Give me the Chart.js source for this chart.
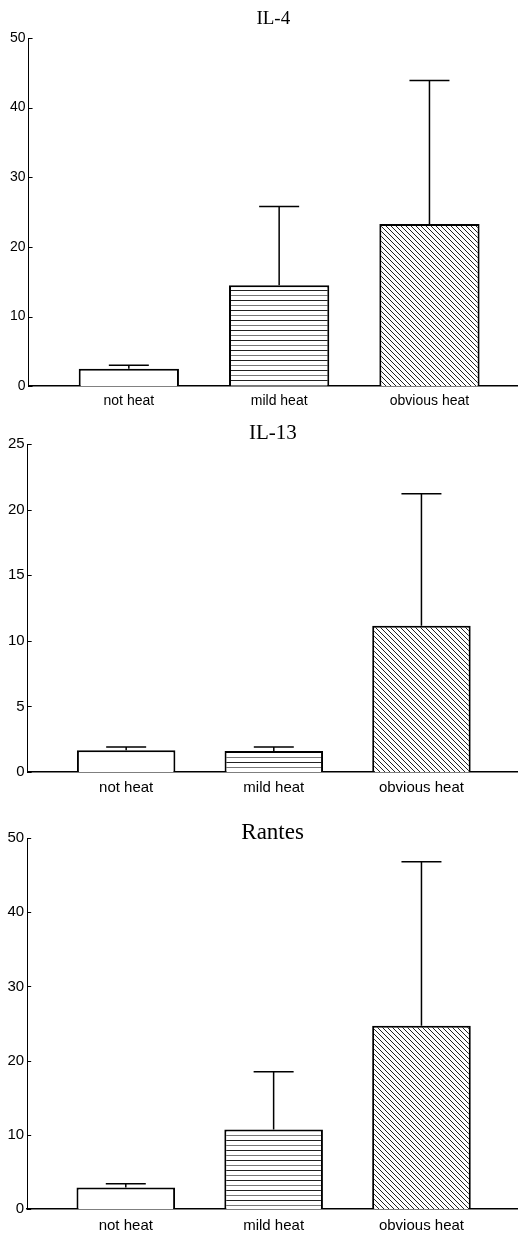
<!DOCTYPE html>
<html>
<head>
<meta charset="utf-8">
<script src="https://cdn.jsdelivr.net/npm/chart.js@4"></script>
<style>
  body { margin: 0; background: #fff; }
  canvas { display: block; }
</style>
</head>
<body>
<canvas id="chart-1" width="518" height="412"></canvas>
<canvas id="chart-2" width="518" height="388"></canvas>
<canvas id="chart-3" width="518" height="436"></canvas>
<script>
var categories = ["not heat", "mild heat", "obvious heat"];

var il4Means = [2.5, 14.5, 23.3];
var il4Upper = [3.0, 25.8, 43.9];
var il4Ticks = [0, 10, 20, 30, 40, 50];

var il13Means = [1.65, 1.6, 11.15];
var il13Upper = [1.9, 1.9, 21.2];
var il13Ticks = [0, 5, 10, 15, 20, 25];

var rantesMeans = [2.9, 10.7, 24.7];
var rantesUpper = [3.4, 18.5, 46.8];
var rantesTicks = [0, 10, 20, 30, 40, 50];

// fill patterns
function hLines() {
  var c = document.createElement("canvas");
  c.width = 8; c.height = 10;
  var g = c.getContext("2d");
  g.fillStyle = "#fff";
  g.fillRect(0, 0, 8, 10);
  g.fillStyle = "#222";
  g.fillRect(0, 0, 8, 1);
  g.fillStyle = "#777";
  g.fillRect(0, 5, 8, 1);
  return g.createPattern(c, "repeat");
}

function hatch() {
  var c = document.createElement("canvas");
  c.width = 5; c.height = 5;
  var g = c.getContext("2d");
  g.fillStyle = "#fff";
  g.fillRect(0, 0, 5, 5);
  g.strokeStyle = "#222";
  g.lineWidth = 1;
  g.beginPath();
  g.moveTo(-1, -1); g.lineTo(6, 6);
  g.moveTo(-1, 4); g.lineTo(1, 6);
  g.moveTo(4, -1); g.lineTo(6, 1);
  g.stroke();
  return g.createPattern(c, "repeat");
}

var fills = ["#fff", hLines(), hatch()];

// upper error bars from each bar top, plus small inward y ticks
var errorBars = {
  id: "errorBars",
  afterDatasetsDraw: function (chart, args, opts) {
    var ctx = chart.ctx;
    var y = chart.scales.y;
    var meta = chart.getDatasetMeta(0);
    ctx.save();
    ctx.strokeStyle = "#000";
    ctx.lineWidth = 1.5;
    meta.data.forEach(function (bar, i) {
      var top = y.getPixelForValue(opts.upper[i]);
      ctx.beginPath();
      ctx.moveTo(bar.x, bar.y);
      ctx.lineTo(bar.x, top);
      ctx.moveTo(bar.x - opts.cap / 2, top);
      ctx.lineTo(bar.x + opts.cap / 2, top);
      ctx.stroke();
    });
    ctx.lineWidth = 1;
    y.ticks.forEach(function (t) {
      var py = Math.round(y.getPixelForValue(t.value)) + 0.5;
      ctx.beginPath();
      ctx.moveTo(chart.chartArea.left, py);
      ctx.lineTo(chart.chartArea.left + 4, py);
      ctx.stroke();
    });
    ctx.restore();
  },
};

function panel(id, title, means, upper, ticks, o) {
  var ctx = document.getElementById(id).getContext("2d");
  return new Chart(ctx, {
    type: "bar",
    data: {
      datasets: [
        {
          data: means.map(function (v, i) { return { x: i, y: v }; }),
          backgroundColor: fills,
          borderColor: "#000",
          borderWidth: 2,
          barPercentage: 0.667,
          categoryPercentage: 1,
        },
      ],
    },
    options: {
      responsive: false,
      animation: false,
      layout: { padding: { left: o.left, right: 0, top: 0, bottom: o.bottom } },
      scales: {
        x: {
          type: "linear",
          offset: false,
          min: -0.667,
          max: o.xmax,
          afterBuildTicks: function (axis) {
            axis.ticks = categories.map(function (c, i) { return { value: i }; });
          },
          ticks: {
            callback: function (v) { return categories[v]; },
            color: "#000",
            padding: o.xpad,
            font: { family: "Liberation Sans", size: o.font },
          },
          grid: { display: false, drawTicks: false },
          border: { display: true, color: "#000", width: 1.5 },
        },
        y: {
          min: 0,
          max: ticks[ticks.length - 1],
          afterBuildTicks: function (axis) {
            axis.ticks = ticks.map(function (t) { return { value: t }; });
          },
          ticks: {
            color: "#000",
            padding: 3,
            font: { family: "Liberation Sans", size: o.font },
          },
          grid: { display: false, drawTicks: false },
          border: { display: true, color: "#000", width: 1 },
        },
      },
      plugins: {
        legend: { display: false },
        tooltip: { enabled: false },
        title: {
          display: true,
          text: title,
          fullSize: false,
          color: "#000",
          font: { family: "Liberation Serif", size: o.titleSize, weight: "normal" },
          padding: { top: o.titleTop, bottom: o.titleBottom },
        },
        errorBars: { upper: upper, cap: 40 },
      },
    },
    plugins: [errorBars],
  });
}

panel("chart-1", "IL-4", il4Means, il4Upper, il4Ticks,
  { left: 7, bottom: -5, xmax: 2.589, xpad: 7, font: 14, titleSize: 19, titleTop: 7.6, titleBottom: 7.6 });
panel("chart-2", "IL-13", il13Means, il13Upper, il13Ticks,
  { left: 5, bottom: -4, xmax: 2.654, xpad: 7, font: 15, titleSize: 21, titleTop: 8.4, titleBottom: -1.6 });
panel("chart-3", "Rantes", rantesMeans, rantesUpper, rantesTicks,
  { left: 4.5, bottom: -7, xmax: 2.653, xpad: 8, font: 15, titleSize: 23, titleTop: 19.2, titleBottom: -8.8 });
</script>
</body>
</html>
